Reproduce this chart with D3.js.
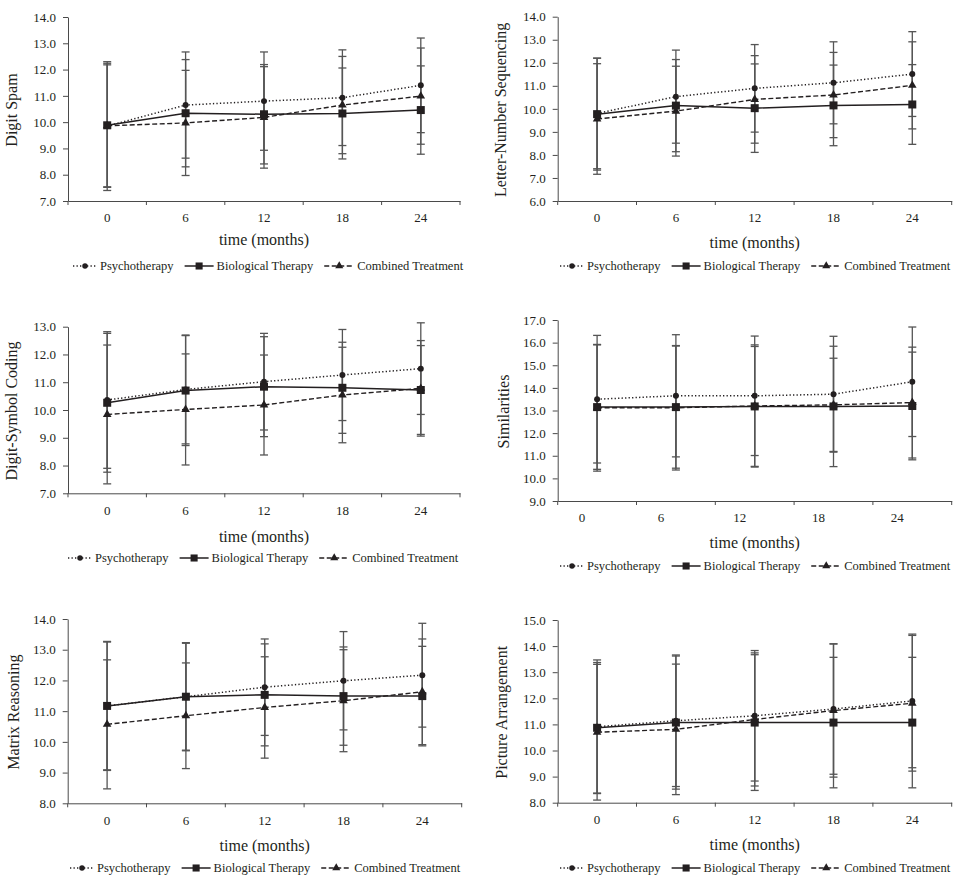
<!DOCTYPE html>
<html>
<head>
<meta charset="utf-8">
<script src="https://cdn.jsdelivr.net/npm/d3@7"></script>
<style>
  html, body { margin: 0; padding: 0; background: #fff; }
  svg { display: block; font-family: "Liberation Serif", "Times New Roman", serif; }
</style>
</head>
<body>
<svg id="chart" width="962" height="883"></svg>
<script>
const months = ['0', '6', '12', '18', '24'];
const groups = ['Psychotherapy', 'Biological Therapy', 'Combined Treatment'];

// rows: psychotherapy, biological therapy, combined treatment
const digitSpanMeans = [
    [9.85, 10.65, 10.80, 10.93, 11.40],
    [9.88, 10.34, 10.30, 10.33, 10.46],
    [9.86, 9.97, 10.18, 10.65, 10.99]
];
const digitSpanSd = [
    [2.45, 2.02, 1.87, 1.82, 1.80],
    [2.36, 2.04, 1.89, 1.73, 1.68],
    [2.32, 2.00, 1.93, 1.85, 1.83]
];

const letterNumberMeans = [
    [9.80, 10.53, 10.89, 11.13, 11.51],
    [9.77, 10.14, 10.03, 10.15, 10.19],
    [9.56, 9.90, 10.41, 10.60, 11.02]
];
const letterNumberSd = [
    [2.40, 2.02, 1.90, 1.78, 1.84],
    [2.43, 2.00, 1.92, 1.75, 1.73],
    [2.40, 1.95, 1.90, 1.85, 1.89]
];

const digitSymbolMeans = [
    [10.36, 10.74, 11.02, 11.26, 11.49],
    [10.26, 10.70, 10.84, 10.80, 10.72],
    [9.84, 10.02, 10.18, 10.54, 10.78]
];
const digitSymbolSd = [
    [2.46, 1.96, 1.74, 1.64, 1.65],
    [2.50, 1.98, 1.80, 1.64, 1.60],
    [2.50, 2.00, 1.80, 1.72, 1.72]
];

const similaritiesMeans = [
    [13.50, 13.65, 13.65, 13.72, 14.27],
    [13.15, 13.15, 13.18, 13.18, 13.20],
    [13.12, 13.12, 13.20, 13.25, 13.35]
];
const similaritiesSd = [
    [2.82, 2.70, 2.64, 2.56, 2.42],
    [2.75, 2.70, 2.65, 2.66, 2.38],
    [2.80, 2.75, 2.70, 2.06, 2.45]
];

const matrixMeans = [
    [11.17, 11.47, 11.78, 11.99, 12.17],
    [11.17, 11.47, 11.53, 11.49, 11.49],
    [10.57, 10.85, 11.12, 11.34, 11.63]
];
const matrixSd = [
    [2.10, 1.76, 1.57, 1.60, 1.69],
    [2.08, 1.74, 1.66, 1.60, 1.62],
    [2.10, 1.72, 1.65, 1.66, 1.72]
];

const pictureMeans = [
    [10.91, 11.14, 11.33, 11.59, 11.90],
    [10.87, 11.07, 11.07, 11.07, 11.07],
    [10.70, 10.81, 11.19, 11.53, 11.81]
];
const pictureSd = [
    [2.56, 2.52, 2.50, 2.50, 2.56],
    [2.50, 2.55, 2.60, 2.50, 2.50],
    [2.60, 2.50, 2.55, 2.55, 2.60]
];

const panels = [
    { label: 'Digit Spam', means: digitSpanMeans, sd: digitSpanSd, yDomain: [7, 14],
      x0: 68, x1: 460, top: 17, bottom: 201, labelX: 11, tickY: 218, titleY: 240, legendY: 266, legendX: 73, shift: 0 },
    { label: 'Letter-Number Sequencing', means: letterNumberMeans, sd: letterNumberSd, yDomain: [6, 14],
      x0: 557.7, x1: 951.7, top: 16.7, bottom: 201, labelX: 500, tickY: 218, titleY: 243, legendY: 266, legendX: 560, shift: 0 },
    { label: 'Digit-Symbol Coding', means: digitSymbolMeans, sd: digitSymbolSd, yDomain: [7, 13],
      x0: 68, x1: 460, top: 326.7, bottom: 493.3, labelX: 11, tickY: 511, titleY: 537, legendY: 558, legendX: 68, shift: 0 },
    { label: 'Similarities', means: similaritiesMeans, sd: similaritiesSd, yDomain: [9, 17],
      x0: 557.7, x1: 951.7, top: 320, bottom: 501, labelX: 503, tickY: 518, titleY: 543, legendY: 566, legendX: 560, shift: -15 },
    { label: 'Matrix Reasoning', means: matrixMeans, sd: matrixSd, yDomain: [8, 14],
      x0: 67.7, x1: 461.7, top: 619, bottom: 803.3, labelX: 13, tickY: 821, titleY: 846, legendY: 868, legendX: 70, shift: 0 },
    { label: 'Picture Arrangement', means: pictureMeans, sd: pictureSd, yDomain: [8, 15],
      x0: 557.7, x1: 951.7, top: 620, bottom: 802.7, labelX: 501, tickY: 820, titleY: 845, legendY: 868, legendX: 560, shift: 0 }
];

const ink = '#231f20';
const axisInk = '#4a4a4a';
const barInk = '#555';
const groupStyle = [
    { dash: '1.3,2.2', width: 1.5, symbol: d3.symbolCircle, size: 28, legendSize: 24, sample: 24 },
    { dash: null, width: 1.5, symbol: d3.symbolSquare, size: 64, legendSize: 50, sample: 29 },
    { dash: '5,2.5', width: 1.4, symbol: d3.symbolTriangle, size: 32, legendSize: 28, sample: 30 }
];
// psychotherapy first, biological on top
const drawOrder = [0, 2, 1];

const svg = d3.select('#chart');

panels.forEach(p => {
    const g = svg.append('g');

    const x = d3.scaleBand().domain(months).range([p.x0, p.x1]);
    const cx = m => x(m) + x.bandwidth() / 2;
    const y = d3.scaleLinear().domain(p.yDomain).range([p.bottom, p.top]);

    // y axis
    const yAxis = g.append('g')
        .attr('transform', `translate(${p.x0},0)`)
        .call(d3.axisLeft(y)
            .tickValues(d3.range(p.yDomain[0], p.yDomain[1] + 1))
            .tickFormat(d3.format('.1f'))
            .tickSize(5)
            .tickSizeOuter(0)
            .tickPadding(7));
    yAxis.select('.domain').attr('stroke', axisInk);
    yAxis.selectAll('.tick line').attr('stroke', axisInk);
    yAxis.selectAll('.tick text')
        .attr('fill', ink)
        .style('font-size', '13px')
        .style('font-family', '"Liberation Serif", serif');

    // x axis: labels centred in bands, ticks on band edges
    const xAxis = g.append('g')
        .attr('transform', `translate(0,${p.bottom})`)
        .call(d3.axisBottom(x).tickSize(0).tickSizeOuter(0));
    xAxis.select('.domain').attr('stroke', axisInk);
    xAxis.selectAll('.tick text')
        .attr('fill', ink)
        .attr('x', p.shift)
        .attr('y', p.tickY - p.bottom + 4.3)
        .attr('dy', null)
        .style('font-size', '13px')
        .style('font-family', '"Liberation Serif", serif');
    const edges = months.map(m => x(m)).concat([x.range()[1]]);
    xAxis.selectAll('.edge')
        .data(edges)
        .enter()
        .append('line')
        .attr('class', 'edge')
        .attr('x1', d => d)
        .attr('x2', d => d)
        .attr('y1', 0)
        .attr('y2', 4)
        .attr('stroke', axisInk);

    // axis titles
    g.append('text')
        .attr('x', (p.x0 + p.x1) / 2)
        .attr('y', p.titleY)
        .attr('dy', '0.3em')
        .attr('text-anchor', 'middle')
        .attr('fill', ink)
        .style('font-size', '16px')
        .text('time (months)');

    g.append('text')
        .attr('transform', `translate(${p.labelX},${(p.top + p.bottom) / 2 + 1}) rotate(-90)`)
        .attr('dy', '0.35em')
        .attr('text-anchor', 'middle')
        .attr('fill', ink)
        .style('font-size', '16px')
        .text(p.label);

    // error bars (mean +/- SD)
    drawOrder.forEach(k => {
        const bars = g.append('g').attr('stroke', barInk).attr('stroke-width', 1.3);
        p.means[k].forEach((mean, i) => {
            const xc = cx(months[i]);
            const hi = y(mean + p.sd[k][i]);
            const lo = y(mean - p.sd[k][i]);
            bars.append('line').attr('x1', xc).attr('x2', xc).attr('y1', hi).attr('y2', lo);
            bars.append('line').attr('x1', xc - 4).attr('x2', xc + 4).attr('y1', hi).attr('y2', hi);
            bars.append('line').attr('x1', xc - 4).attr('x2', xc + 4).attr('y1', lo).attr('y2', lo);
        });
    });

    // lines
    const line = d3.line()
        .x((d, i) => cx(months[i]))
        .y(d => y(d));

    drawOrder.forEach(k => {
        const s = groupStyle[k];
        g.append('path')
            .datum(p.means[k])
            .attr('d', line)
            .attr('fill', 'none')
            .attr('stroke', ink)
            .attr('stroke-width', s.width)
            .attr('stroke-dasharray', s.dash);
    });

    // markers
    drawOrder.forEach(k => {
        const s = groupStyle[k];
        g.selectAll(null)
            .data(p.means[k])
            .enter()
            .append('path')
            .attr('d', d3.symbol().type(s.symbol).size(s.size))
            .attr('transform', (d, i) => `translate(${cx(months[i])},${y(d)})`)
            .attr('fill', ink);
    });

    // legend
    const legend = g.append('g').attr('transform', `translate(${p.legendX},${p.legendY})`);
    let cur = 0;
    groups.forEach((name, k) => {
        const s = groupStyle[k];
        legend.append('line')
            .attr('x1', cur)
            .attr('x2', cur + s.sample)
            .attr('y1', 0)
            .attr('y2', 0)
            .attr('stroke', ink)
            .attr('stroke-width', s.width)
            .attr('stroke-dasharray', s.dash);
        legend.append('path')
            .attr('d', d3.symbol().type(s.symbol).size(s.legendSize))
            .attr('transform', `translate(${cur + s.sample / 2},0)`)
            .attr('fill', ink);
        const t = legend.append('text')
            .attr('x', cur + s.sample + 3)
            .attr('dy', '0.33em')
            .attr('fill', ink)
            .style('font-size', '12.5px')
            .text(name);
        cur += s.sample + 3 + t.node().getComputedTextLength() + 11;
    });
});
</script>
</body>
</html>
